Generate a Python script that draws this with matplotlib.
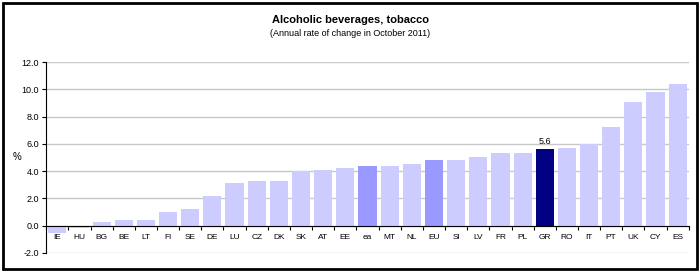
import numpy as np
import matplotlib.pyplot as plt
from matplotlib.patches import Rectangle

plt.rcParams['font.family'] = ['Liberation Sans', 'DejaVu Sans']

# Annual rate of change, October 2011 (%)
countries = ['IE', 'HU', 'BG', 'BE', 'LT', 'FI', 'SE', 'DE', 'LU', 'CZ', 'DK', 'SK', 'AT', 'EE', 'ea',
             'MT', 'NL', 'EU', 'SI', 'LV', 'FR', 'PL', 'GR', 'RO', 'IT', 'PT', 'UK', 'CY', 'ES']
rates = [-0.5, -0.2, 0.3, 0.4, 0.4, 1.0, 1.2, 2.2, 3.1, 3.3, 3.3, 4.0, 4.1, 4.2, 4.4,
         4.4, 4.5, 4.8, 4.8, 5.0, 5.3, 5.3, 5.6, 5.7, 6.0, 7.2, 9.1, 9.8, 10.4]
aggregates = ['ea', 'EU']
highlight = 'GR'

colors = []
for c in countries:
    if c == highlight:
        colors.append('#000080')
    elif c in aggregates:
        colors.append('#9999FF')
    else:
        colors.append('#CCCCFF')

fig = plt.figure(figsize=(7, 2.72), dpi=100)
ax = fig.add_axes([0.066, 0.070, 0.918, 0.702])

x = np.arange(len(countries))
ax.bar(x, rates, width=0.82, color=colors, zorder=2)

ax.set_xlim(-0.5, len(countries) - 0.5)
ax.set_ylim(-2, 12)
ax.set_yticks(np.arange(-2, 12.1, 2))
ax.set_yticklabels([f'{v:.1f}' for v in np.arange(-2, 12.1, 2)], fontsize=6.5)
ax.yaxis.grid(True, color='#C8C8C8', linewidth=1)
ax.set_axisbelow(True)

for s in ['top', 'right']:
    ax.spines[s].set_visible(False)
ax.spines['left'].set_linewidth(0.8)
ax.spines['bottom'].set_position(('data', 0))
ax.spines['bottom'].set_linewidth(0.8)
ax.tick_params(axis='y', length=3, width=0.8, pad=2)

ax.set_xticks(x)
ax.set_xticklabels(countries, fontsize=6)
ax.set_xticks(np.arange(-0.5, len(countries)), minor=True)
ax.tick_params(axis='x', which='major', length=0, pad=6)
ax.tick_params(axis='x', which='minor', length=3, width=0.8, direction='out')

i = countries.index(highlight)
ax.text(i, rates[i] + 0.25, f'{rates[i]:.1f}', ha='center', va='bottom', fontsize=6.5)

ax.text(-0.045, 0.5, '%', transform=ax.transAxes, fontsize=7, ha='center', va='center')

fig.text(0.5, 0.925, 'Alcoholic beverages, tobacco', ha='center', va='center',
         fontsize=8, fontweight='bold')
fig.text(0.5, 0.875, '(Annual rate of change in October 2011)', ha='center', va='center',
         fontsize=6.5)

fig.patches.append(Rectangle((0.004, 0.01), 0.992, 0.98, transform=fig.transFigure,
                             fill=False, edgecolor='black', linewidth=2))

fig.savefig('out.png', dpi=100)
